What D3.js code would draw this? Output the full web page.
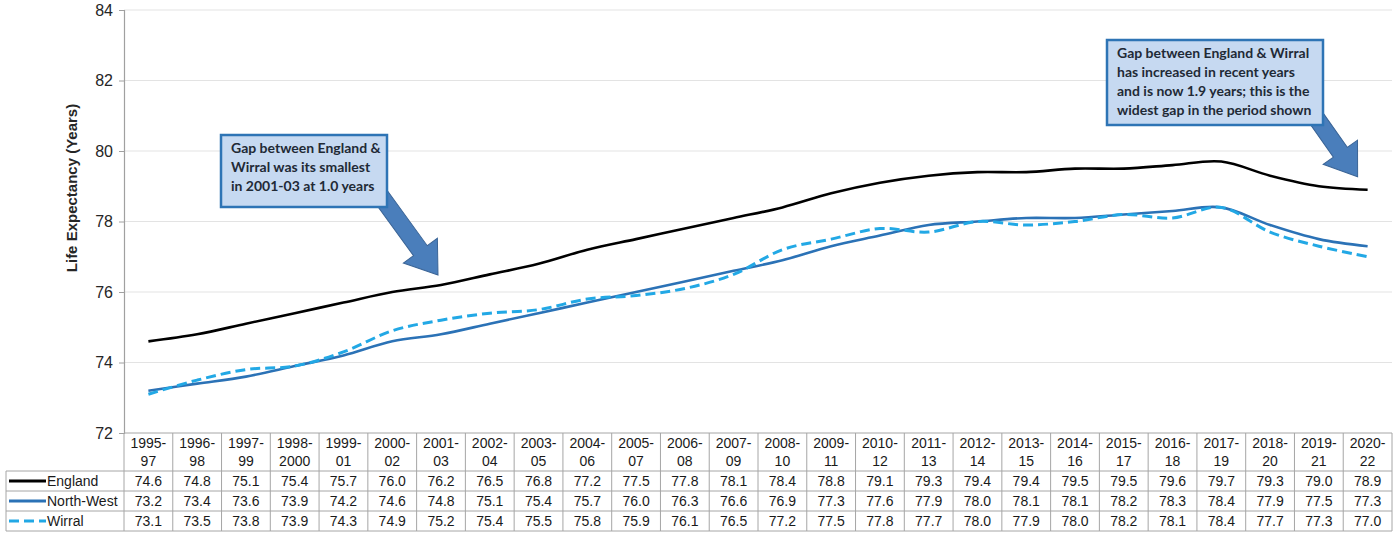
<!DOCTYPE html>
<html>
<head>
<meta charset="utf-8">
<script src="https://cdn.jsdelivr.net/npm/d3@7"></script>
<style>
  html, body { margin: 0; padding: 0; background: #fff; }
  svg { display: block; font-family: "Liberation Sans", Arial, sans-serif; }
</style>
</head>
<body>
<svg id="chart" width="1397" height="541"></svg>
<script>
// ---------- DATA ----------
const periodsTop = ["1995-","1996-","1997-","1998-","1999-","2000-","2001-","2002-","2003-","2004-","2005-","2006-","2007-","2008-","2009-","2010-","2011-","2012-","2013-","2014-","2015-","2016-","2017-","2018-","2019-","2020-"];
const periodsBottom = ["97","98","99","2000","01","02","03","04","05","06","07","08","09","10","11","12","13","14","15","16","17","18","19","20","21","22"];
const england   = [74.6,74.8,75.1,75.4,75.7,76.0,76.2,76.5,76.8,77.2,77.5,77.8,78.1,78.4,78.8,79.1,79.3,79.4,79.4,79.5,79.5,79.6,79.7,79.3,79.0,78.9];
const northWest = [73.2,73.4,73.6,73.9,74.2,74.6,74.8,75.1,75.4,75.7,76.0,76.3,76.6,76.9,77.3,77.6,77.9,78.0,78.1,78.1,78.2,78.3,78.4,77.9,77.5,77.3];
const wirral    = [73.1,73.5,73.8,73.9,74.3,74.9,75.2,75.4,75.5,75.8,75.9,76.1,76.5,77.2,77.5,77.8,77.7,78.0,77.9,78.0,78.2,78.1,78.4,77.7,77.3,77.0];
const seriesNames = ["England","North-West","Wirral"];
const yTicks = [72,74,76,78,80,82,84];
const yTitle = "Life Expectancy (Years)";
const note1 = ["Gap between England &","Wirral was its smallest","in 2001-03 at 1.0 years"];
const note2 = ["Gap between England & Wirral","has increased in recent years","and is now 1.9 years; this is the","widest gap in the period shown"];

// ---------- LAYOUT ----------
const categories = periodsTop.map((p,i) => p + periodsBottom[i]);
const series = [
  {name: seriesNames[0], values: england,   color: "#000000", width: 2.6, dash: null},
  {name: seriesNames[1], values: northWest, color: "#2B72B6", width: 2.6, dash: null},
  {name: seriesNames[2], values: wirral,    color: "#22A8E5", width: 3,   dash: "10,5"}
];

const svg = d3.select("#chart");
const plotL = 124, plotR = 1392, plotT = 10, plotB = 433;
const tableL = 6;
const rowY = [433, 471, 491, 511, 531];

const x = d3.scaleBand().domain(categories).range([plotL, plotR]).paddingInner(0).paddingOuter(0);
const xc = c => x(c) + x.bandwidth()/2;
const y = d3.scaleLinear().domain([72, 84]).range([plotB, plotT]);

// gridlines
svg.append("g").selectAll("line").data(yTicks.filter(t => t !== 72)).join("line")
  .attr("x1", plotL).attr("x2", plotR)
  .attr("y1", d => y(d)).attr("y2", d => y(d))
  .attr("stroke", "#E3E3E3").attr("stroke-width", 1);

// y axis
const yAxis = svg.append("g").attr("transform", `translate(${plotL},0)`)
  .call(d3.axisLeft(y).tickValues(yTicks).tickSize(5).tickPadding(6).tickFormat(d3.format("d")));
yAxis.select(".domain").attr("stroke", "#A0A0A0").attr("stroke-width", 1.2);
yAxis.selectAll(".tick line").attr("stroke", "#A0A0A0");
yAxis.selectAll(".tick text").attr("fill", "#262626")
  .style("font-size", "16px").style("font-family", "'Liberation Sans', Arial, sans-serif");

// y title
svg.append("text")
  .attr("transform", `translate(77,188) rotate(-90)`)
  .attr("text-anchor", "middle")
  .style("font-size", "15px").style("font-weight", "bold").attr("fill", "#262626")
  .text(yTitle);

// lines
const line = d3.line().curve(d3.curveCardinal.tension(0))
  .x((d,i) => xc(categories[i])).y(d => y(d));
svg.append("g").selectAll("path").data(series).join("path")
  .attr("d", d => line(d.values))
  .attr("fill", "none")
  .attr("stroke", d => d.color)
  .attr("stroke-width", d => d.width)
  .attr("stroke-dasharray", d => d.dash)
  .attr("stroke-linejoin", "round");

// ---------- TABLE ----------
const tbl = svg.append("g");
const border = "#A6A6A6";
tbl.append("line").attr("x1", plotL).attr("x2", plotR).attr("y1", rowY[0]).attr("y2", rowY[0]).attr("stroke", border);
rowY.slice(1).forEach(yy => {
  tbl.append("line").attr("x1", tableL).attr("x2", plotR).attr("y1", yy).attr("y2", yy).attr("stroke", border);
});
tbl.append("line").attr("x1", tableL).attr("x2", tableL).attr("y1", rowY[1]).attr("y2", rowY[4]).attr("stroke", border);
categories.forEach(c => {
  tbl.append("line").attr("x1", x(c)).attr("x2", x(c)).attr("y1", rowY[0]).attr("y2", rowY[4]).attr("stroke", border);
});
tbl.append("line").attr("x1", plotR).attr("x2", plotR).attr("y1", rowY[0]).attr("y2", rowY[4]).attr("stroke", border);

tbl.append("g").selectAll("text").data(categories).join("text")
  .attr("x", d => xc(d)).attr("y", 448)
  .attr("text-anchor", "middle").style("font-size", "14px").attr("fill", "#1A1A1A")
  .each(function(d,i) {
    d3.select(this).append("tspan").attr("x", xc(d)).attr("dy", 0).text(periodsTop[i]);
    d3.select(this).append("tspan").attr("x", xc(d)).attr("dy", 18).text(periodsBottom[i]);
  });

series.forEach((s, r) => {
  const cy = (rowY[r+1] + rowY[r+2]) / 2;
  tbl.append("line").attr("x1", 9).attr("x2", 46).attr("y1", cy).attr("y2", cy)
    .attr("stroke", s.color).attr("stroke-width", 3).attr("stroke-dasharray", s.dash);
  tbl.append("text").attr("x", 47).attr("y", cy + 5).style("font-size", "14px").attr("fill", "#1A1A1A").text(s.name);
  tbl.append("g").selectAll("text").data(s.values).join("text")
    .attr("x", (d,i) => xc(categories[i])).attr("y", cy + 5)
    .attr("text-anchor", "middle").style("font-size", "14px").attr("fill", "#1A1A1A")
    .text(d => d.toFixed(1));
});

// ---------- CALLOUTS ----------
function arrow(g, sx, sy, tx, ty, shaftW, headW, headL) {
  const dx = tx - sx, dy = ty - sy, L = Math.hypot(dx, dy);
  const ang = Math.atan2(dy, dx) * 180 / Math.PI;
  const pts = [
    [0, -shaftW/2], [L - headL, -shaftW/2], [L - headL, -headW/2], [L, 0],
    [L - headL, headW/2], [L - headL, shaftW/2], [0, shaftW/2]
  ];
  g.append("polygon")
    .attr("points", pts.map(p => p.join(",")).join(" "))
    .attr("transform", `translate(${sx},${sy}) rotate(${ang})`)
    .attr("fill", "#4A7EBB").attr("stroke", "#3A6496").attr("stroke-width", 1);
}
function callout(lines, bx, by, bw, bh, tipCat, tipVal, tipDx, tipDy, startX, startY) {
  const g = svg.append("g");
  arrow(g, startX, startY, xc(tipCat) + tipDx, y(tipVal) + tipDy, 17, 42, 30);
  g.append("rect").attr("x", bx).attr("y", by).attr("width", bw).attr("height", bh)
    .attr("fill", "#C6D9F1").attr("stroke", "#2E74B5").attr("stroke-width", 2.5);
  g.append("g").selectAll("text").data(lines).join("text")
    .attr("x", bx + 10).attr("y", (d,i) => by + 18 + i * 19)
    .style("font-family", "Lato, 'Open Sans', sans-serif")
    .style("font-weight", "bold").style("font-size", "14px").attr("fill", "#1F2A36")
    .text(d => d);
}
callout(note1, 221, 135, 166, 72, categories[6], england[6], -3, -10, 380, 195);
callout(note2, 1107, 40, 216, 85, categories[25], england[25], -10, -13, 1312, 112);
</script>
</body>
</html>
